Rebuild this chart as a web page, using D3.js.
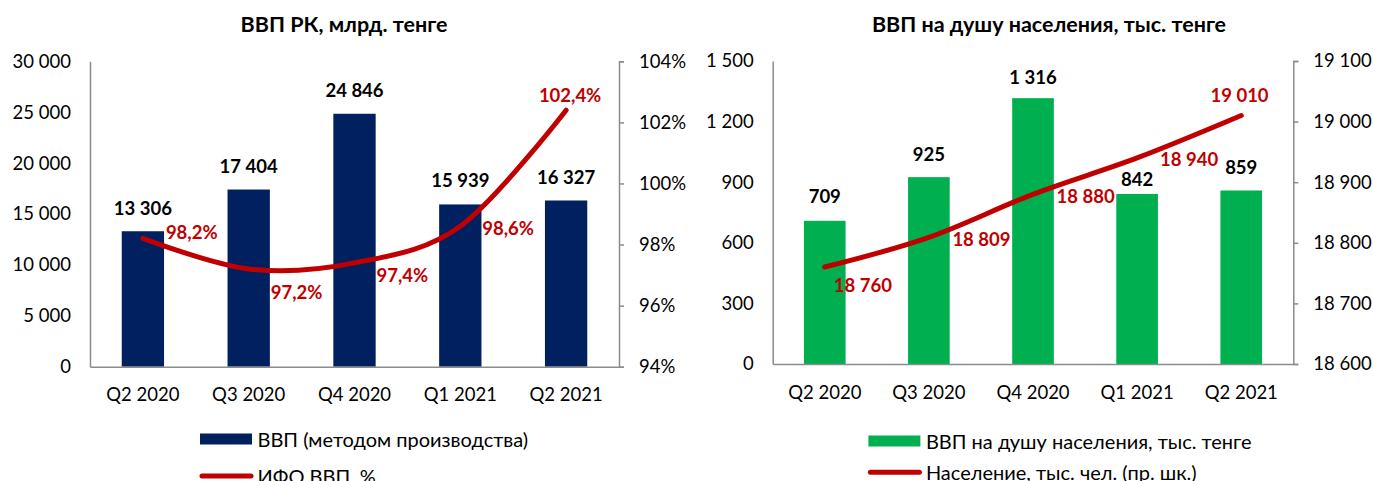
<!DOCTYPE html>
<html><head><meta charset="utf-8">
<script src="https://cdn.jsdelivr.net/npm/d3@7"></script>
<style>
html,body{margin:0;padding:0;background:#fff;}
svg{display:block;font-family:Lato, "Open Sans", sans-serif;}
</style></head>
<body>
<svg id="chart" width="1373" height="481"></svg>
<script>
// ---- DATA ----
const categories = ["Q2 2020", "Q3 2020", "Q4 2020", "Q1 2021", "Q2 2021"];
const gdpValues = [13306, 17404, 24846, 15939, 16327];          // млрд. тенге
const ifoValues = [98.2, 97.2, 97.4, 98.6, 102.4];              // ИФО ВВП, %
const gdpPerCapita = [709, 925, 1316, 842, 859];                // тыс. тенге
const population = [18760, 18809, 18880, 18940, 19010];         // тыс. чел.
const leftTicksGdp = [0, 5000, 10000, 15000, 20000, 25000, 30000];
const rightTicksIfo = [94, 96, 98, 100, 102, 104];
const leftTicksPc = [0, 300, 600, 900, 1200, 1500];
const rightTicksPop = [18600, 18700, 18800, 18900, 19000, 19100];
const titles = ["ВВП РК, млрд. тенге", "ВВП на душу населения, тыс. тенге"];
const legendLabels = [
  ["ВВП (методом производства)", "ИФО ВВП, %"],
  ["ВВП на душу населения, тыс. тенге", "Население, тыс. чел. (пр. шк.)"]
];

// ---- formatting ----
const fmtThousands = v => d3.format(",")(v).replace(/,/g, "\u00A0");
const fmtPct = v => d3.format(".1f")(v).replace(".", ",") + "%";
const fmtPctTick = v => v + "%";

const svg = d3.select("#chart");
const AXIS = "#8c8c8c";
const RED = "#C00000";
const FS = 18.5;
const FS_TITLE = 21.5;
const FS_LEG = 20;

function drawPanel(cfg) {
  const g = svg.append("g");
  const x = d3.scaleBand().domain(categories).range([cfg.x0, cfg.x1])
    .paddingInner(0.6).paddingOuter(0.3);
  const yL = d3.scaleLinear().domain(cfg.leftDomain).range([cfg.yBottom, cfg.yTop]);
  const yR = d3.scaleLinear().domain(cfg.rightDomain).range([cfg.yBottom, cfg.yTop]);

  // title
  g.append("text").attr("x", cfg.titleX).attr("y", 24)
    .attr("text-anchor", "middle").attr("dominant-baseline", "central")
    .attr("font-weight", "bold").attr("font-size", FS_TITLE).attr("fill", "#000")
    .text(cfg.title);

  // bars
  g.selectAll("rect.bar").data(cfg.bars).join("rect").attr("class", "bar")
    .attr("x", (d, i) => x(categories[i]))
    .attr("width", x.bandwidth())
    .attr("y", d => yL(d))
    .attr("height", d => yL(0) - yL(d))
    .attr("fill", cfg.barColor);

  // left axis (no ticks)
  const axL = d3.axisLeft(yL).tickValues(cfg.leftTicks).tickSize(0).tickPadding(19)
    .tickFormat(fmtThousands);
  const gL = g.append("g").attr("transform", `translate(${cfg.x0},0)`).call(axL);
  gL.select(".domain").attr("stroke", AXIS).attr("stroke-width", 1.5);
  gL.selectAll("text").attr("font-size", FS).attr("fill", "#000")
    .attr("font-family", "Lato");

  // right axis
  const axR = d3.axisRight(yR).tickValues(cfg.rightTicks).tickSize(5).tickSizeOuter(5)
    .tickPadding(15).tickFormat(cfg.rightFormat);
  const gR = g.append("g").attr("transform", `translate(${cfg.x1},0)`).call(axR);
  gR.select(".domain").attr("stroke", AXIS).attr("stroke-width", 1.5);
  gR.selectAll(".tick line").attr("stroke", AXIS).attr("stroke-width", 1.5);
  gR.selectAll("text").attr("font-size", FS).attr("fill", "#000")
    .attr("font-family", "Lato");

  // bottom axis
  const axB = d3.axisBottom(x).tickSize(0).tickSizeOuter(0).tickPadding(0);
  const gB = g.append("g").attr("transform", `translate(0,${cfg.yBottom})`).call(axB);
  gB.select(".domain").attr("stroke", AXIS).attr("stroke-width", 1.5);
  gB.selectAll("text").attr("font-size", FS).attr("fill", "#000")
    .attr("font-family", "Lato").attr("dy", null).attr("y", 27.5)
    .attr("dominant-baseline", "central");

  // bar value labels
  g.selectAll("text.barlab").data(cfg.bars).join("text").attr("class", "barlab")
    .attr("x", (d, i) => x(categories[i]) + x.bandwidth() / 2)
    .attr("y", (d, i) => yL(d) - cfg.barLabelOffsets[i])
    .attr("text-anchor", "middle").attr("dominant-baseline", "central")
    .attr("font-weight", "bold").attr("font-size", FS).attr("fill", "#000")
    .text(d => fmtThousands(d));

  // line
  const cx = i => x(categories[i]) + x.bandwidth() / 2;
  const line = d3.line().x((d, i) => cx(i)).y(d => yR(d)).curve(d3.curveCardinal.tension(0));
  g.append("path").datum(cfg.line).attr("d", line)
    .attr("fill", "none").attr("stroke", RED).attr("stroke-width", 5)
    .attr("stroke-linecap", "round").attr("stroke-linejoin", "round");

  // line labels
  g.selectAll("text.linelab").data(cfg.line).join("text").attr("class", "linelab")
    .attr("x", (d, i) => cx(i) + cfg.lineLabelPos[i][0])
    .attr("y", (d, i) => yR(d) + cfg.lineLabelPos[i][1])
    .attr("text-anchor", (d, i) => cfg.lineLabelPos[i][2])
    .attr("dominant-baseline", "central")
    .attr("font-weight", "bold").attr("font-size", FS).attr("fill", RED)
    .text(d => cfg.lineFormat(d));

  // legend
  const lg = g.append("g");
  lg.append("rect").attr("x", cfg.legX).attr("y", cfg.legY1 - 5.5)
    .attr("width", 52).attr("height", 11).attr("fill", cfg.barColor);
  lg.append("text").attr("x", cfg.legX + 57.5).attr("y", cfg.legY1)
    .attr("dominant-baseline", "central").attr("font-size", FS_LEG).attr("fill", "#000")
    .text(cfg.legend[0]);
  lg.append("line").attr("x1", cfg.legX + 2).attr("x2", cfg.legX + 51)
    .attr("y1", cfg.legY2).attr("y2", cfg.legY2)
    .attr("stroke", RED).attr("stroke-width", 5).attr("stroke-linecap", "round");
  lg.append("text").attr("x", cfg.legX + 57.5).attr("y", cfg.legY2)
    .attr("dominant-baseline", "central").attr("font-size", FS_LEG).attr("fill", "#000")
    .text(cfg.legend[1]);
}

drawPanel({
  x0: 90, x1: 619, yBottom: 366.7, yTop: 61.3,
  leftDomain: [0, 30000], rightDomain: [94, 104],
  leftTicks: leftTicksGdp, rightTicks: rightTicksIfo, rightFormat: fmtPctTick,
  bars: gdpValues, line: ifoValues, lineFormat: fmtPct,
  barColor: "#002060", title: titles[0], titleX: 344,
  barLabelOffsets: [23.5, 23.5, 24, 24, 23.5],
  lineLabelPos: [[23, -6.6, "start"], [22, 22.7, "start"], [22, 12, "start"], [22, 2, "start"], [4, -15, "middle"]],
  legend: legendLabels[0], legX: 200, legY1: 439, legY2: 476
});

drawPanel({
  x0: 772.7, x1: 1293.3, yBottom: 364, yTop: 61,
  leftDomain: [0, 1500], rightDomain: [18600, 19100],
  leftTicks: leftTicksPc, rightTicks: rightTicksPop, rightFormat: fmtThousands,
  bars: gdpPerCapita, line: population, lineFormat: fmtThousands,
  barColor: "#00B050", title: titles[1], titleX: 1049,
  barLabelOffsets: [25, 23, 21, 15, 23],
  lineLabelPos: [[9, 18, "start"], [23.5, 2, "start"], [23.5, 2, "start"], [23, 1, "start"], [-1.7, -20.6, "middle"]],
  legend: legendLabels[1], legX: 868.4, legY1: 441, legY2: 472.3
});
</script>
</body></html>
